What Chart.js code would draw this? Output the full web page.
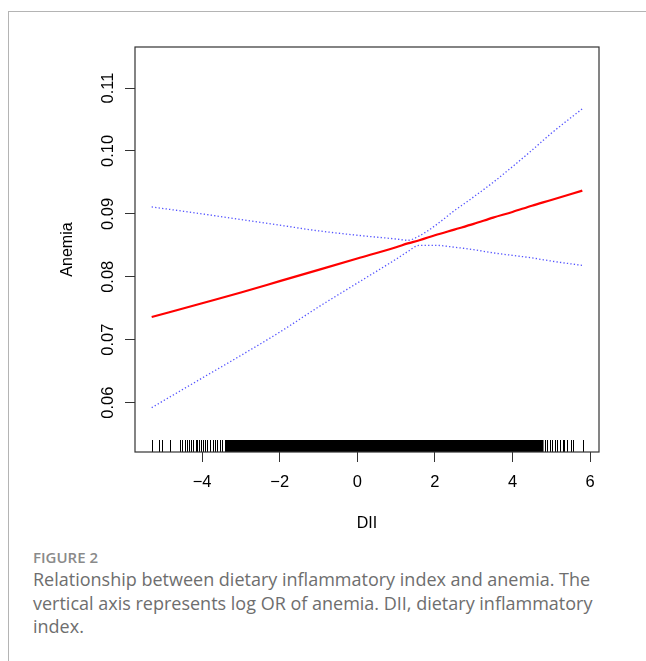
<!DOCTYPE html>
<html>
<head>
<meta charset="utf-8">
<script src="https://cdn.jsdelivr.net/npm/chart.js@4.4.1/dist/chart.umd.min.js"></script>
<style>
  body { margin: 0; background: #fff; width: 646px; height: 661px; overflow: hidden; position: relative; }
  #frame { position: absolute; left: 8px; top: 11px; right: -2px; bottom: -2px; border-top: 1.5px solid #b4b4b4; border-left: 1.5px solid #b4b4b4; }
  #wrap { position: absolute; left: 20px; top: 20px; width: 600px; height: 520px; }
  .fig { position: absolute; left: 33px; top: 547px; font-family: "Open Sans", sans-serif; font-size: 15px; font-weight: 600; color: #8a8a8a; line-height: 20px; }
  .cap { position: absolute; left: 33px; top: 568px; width: 610px; font-family: "Open Sans", sans-serif; font-size: 18px; color: #6e6e6e; line-height: 23.5px; }
</style>
</head>
<body>
<div id="frame"></div>
<div id="wrap"><canvas id="chart"></canvas></div>
<div class="fig">FIGURE 2</div>
<div class="cap">Relationship between dietary inflammatory index and anemia. The<br>vertical axis represents log OR of anemia. DII, dietary inflammatory<br>index.</div>
<script>
const dii = [-5.3, -4, -3, -2, -1, 0, 1, 1.3, 1.6, 2, 2.5, 3, 3.5, 4, 4.5, 5, 5.8];
const fit = [0.0736, 0.0758, 0.0775, 0.0793, 0.0811, 0.0829, 0.0847, 0.0853, 0.0858, 0.0866, 0.0875, 0.0884, 0.0894, 0.0903, 0.0913, 0.0922, 0.0937];
const upper = [0.0911, 0.0900, 0.0891, 0.0882, 0.0873, 0.0866, 0.0860, 0.0858, 0.0865, 0.0881, 0.0905, 0.0927, 0.0950, 0.0975, 0.1001, 0.1028, 0.1067];
const lower = [0.0592, 0.0639, 0.0675, 0.0712, 0.0752, 0.0790, 0.0828, 0.0840, 0.0850, 0.0850, 0.0847, 0.0843, 0.0838, 0.0834, 0.0830, 0.0825, 0.0818];

// rug of observed DII values (sparse tails + solid dense band)
const rugLeft = [-5.28, -5.11, -5.03, -4.83, -4.56, -4.52, -4.44, -4.40, -4.33, -4.29, -4.23, -4.16, -4.12, -4.08, -4.03, -3.99, -3.93, -3.87, -3.80, -3.73, -3.67, -3.61, -3.54, -3.48];
const rugRight = [4.84, 4.90, 4.97, 5.03, 5.10, 5.16, 5.23, 5.29, 5.33, 5.40, 5.50, 5.57, 5.81];
const rugDense = [-3.41, 4.80];

const xTicks = [-4, -2, 0, 2, 4, 6];
const yTicks = [0.06, 0.07, 0.08, 0.09, 0.10, 0.11];

const pts = (ys) => dii.map((x, i) => ({ x: x, y: ys[i] }));

const boxAndRug = {
    id: "boxAndRug",
    afterDatasetsDraw(chart) {
        const ctx = chart.ctx;
        const a = chart.chartArea;
        const xs = chart.scales.x;
        ctx.save();
        ctx.strokeStyle = "#000";
        ctx.lineWidth = 1;
        rugLeft.concat(rugRight).forEach(v => {
            const px = Math.round(xs.getPixelForValue(v)) + 0.5;
            ctx.beginPath();
            ctx.moveTo(px, a.bottom);
            ctx.lineTo(px, a.bottom - 12);
            ctx.stroke();
        });
        ctx.fillStyle = "#000";
        const x0 = xs.getPixelForValue(rugDense[0]);
        const x1 = xs.getPixelForValue(rugDense[1]);
        ctx.fillRect(x0, a.bottom - 12, x1 - x0, 12);
        ctx.strokeStyle = "#333";
        ctx.lineWidth = 1.2;
        ctx.strokeRect(a.left, a.top, a.right - a.left, a.bottom - a.top);
        ctx.restore();
    }
};

const font = "Liberation Sans, Arial, sans-serif";

new Chart(document.getElementById("chart"), {
    type: "scatter",
    data: {
        datasets: [
            { data: pts(upper), showLine: true, borderColor: "rgba(40,40,255,0.8)", borderWidth: 1.3, borderDash: [1.3, 2.2], pointRadius: 0, cubicInterpolationMode: "monotone" },
            { data: pts(lower), showLine: true, borderColor: "rgba(40,40,255,0.8)", borderWidth: 1.3, borderDash: [1.3, 2.2], pointRadius: 0, cubicInterpolationMode: "monotone" },
            { data: pts(fit), showLine: true, borderColor: "#ff0000", borderWidth: 2.2, pointRadius: 0, cubicInterpolationMode: "monotone" }
        ]
    },
    options: {
        responsive: true,
        maintainAspectRatio: false,
        animation: false,
        layout: { padding: { top: 27, right: 21, left: 38, bottom: 0 } },
        plugins: { legend: { display: false }, tooltip: { enabled: false } },
        scales: {
            x: {
                type: "linear",
                min: -5.73,
                max: 6.23,
                afterBuildTicks: (s) => { s.ticks = xTicks.map(v => ({ value: v })); },
                afterFit: (s) => { s.height = 88; },
                grid: { display: true, drawOnChartArea: false, drawTicks: true, tickLength: 10, color: "#333", tickColor: "#333" },
                border: { display: false },
                ticks: {
                    color: "#000",
                    padding: 11,
                    font: { family: font, size: 16.5 },
                    callback: (v) => (v < 0 ? "\u2212" + Math.abs(v) : String(v))
                },
                title: { display: true, text: "DII", color: "#000", font: { family: font, size: 16 }, padding: { top: 4, bottom: 7 } }
            },
            y: {
                type: "linear",
                min: 0.05215,
                max: 0.11652,
                afterBuildTicks: (s) => { s.ticks = yTicks.map(v => ({ value: v })); },
                afterFit: (s) => { s.width = 77; },
                grid: { display: true, drawOnChartArea: false, drawTicks: true, tickLength: 10, color: "#333", tickColor: "#333" },
                border: { display: false },
                ticks: {
                    color: "#000",
                    padding: 0,
                    minRotation: 90,
                    maxRotation: 90,
                    crossAlign: "center",
                    font: { family: font, size: 16.5 },
                    callback: (v) => v.toFixed(2)
                },
                title: { display: true, text: "Anemia", color: "#000", font: { family: font, size: 16 }, padding: 0 }
            }
        }
    },
    plugins: [boxAndRug]
});
</script>
</body>
</html>
